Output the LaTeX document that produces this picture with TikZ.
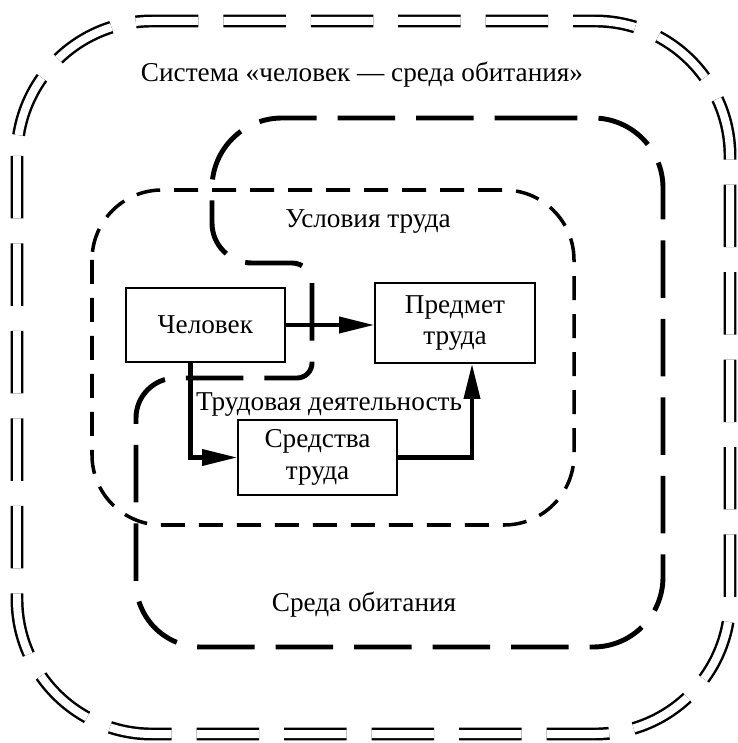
\documentclass[tikz,border=0pt]{standalone}
\usepackage{fontspec}
\setmainfont{Liberation Serif}
\usetikzlibrary{arrows.meta,positioning}

\begin{document}
\begin{tikzpicture}[
    x=0.02cm, y=-0.02cm,
    nodes={font=\fontsize{15.5pt}{18pt}\selectfont},
    block/.style={draw, line width=1.1pt, align=center, inner sep=2pt},
    link/.style={line width=2.3pt, -{Triangle[length=0.7cm,width=0.32cm]}},
    sysline/.style={double, line width=1.4pt, double distance=0.16cm, dash pattern=on 1.25cm off 0.5cm, rounded corners=2.7cm},
    envline/.style={line width=2.8pt, dash pattern=on 1.15cm off 0.42cm},
    condline/.style={line width=2pt, dash pattern=on 0.48cm off 0.28cm, rounded corners=1.4cm}
]
\useasboundingbox (0,0) rectangle (737,743);

\node[block, minimum width=3.18cm, minimum height=1.48cm] (chel) at (205.5,325) {Человек};
\node[block, minimum width=3.2cm, minimum height=1.6cm] (pred) at (455,323) {Предмет\\труда};
\node[block, minimum width=3.18cm, minimum height=1.5cm] (sred) at (317.5,457.5) {Средства\\труда};

\node (sys) at (362,75) {Система «человек — среда обитания»};
\node (usl) at (368,222) {Условия труда};
\node (dey) at (329,405) {Трудовая деятельность};
\node (env) at (364,605) {Среда обитания};

\draw[sysline] (17,21) rectangle (730,734);
\draw[condline] (92,190) rectangle (574,525);
\draw[envline, rounded corners=1.4cm] (450,118) -- (663,118) -- (663,647)
    [rounded corners=1.3cm] -- (136,647) [rounded corners=0.8cm] -- (136,378)
    [rounded corners=0.3cm] -- (312,378) [rounded corners=0.4cm] -- (312,263)
    [rounded corners=0.8cm] -- (212,263) [rounded corners=1.4cm] -- (212,118) -- cycle;

\draw[link] (chel.east) -- (chel.east -| pred.west);
\draw[link] ([xshift=-0.3cm]chel.south) |- (sred.west);
\draw[link] (sred.east) -| ([xshift=0.34cm]pred.south);
\end{tikzpicture}
\end{document}
